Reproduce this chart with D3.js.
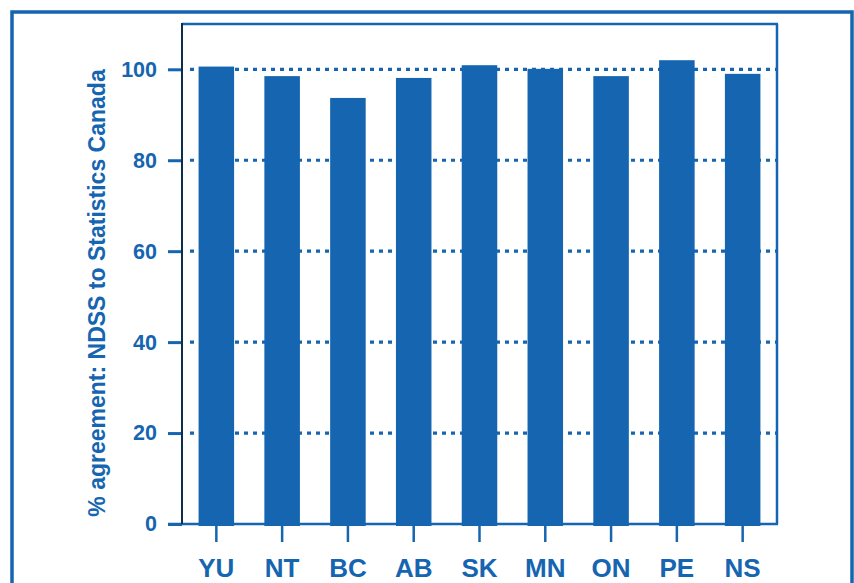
<!DOCTYPE html>
<html>
<head>
<meta charset="utf-8">
<script src="https://cdn.jsdelivr.net/npm/d3@7"></script>
<style>
  html, body { margin: 0; padding: 0; background: #ffffff; }
  svg { display: block; }
  text { font-family: "Liberation Sans", Arial, Helvetica, sans-serif; font-weight: bold; fill: #1565b0; }
</style>
</head>
<body>
<svg id="chart" width="854" height="583"></svg>
<script>
// ---- data ----
const provinces = ["YU", "NT", "BC", "AB", "SK", "MN", "ON", "PE", "NS"];
const agreement = [100.6, 98.5, 93.7, 98.1, 100.9, 100.1, 98.5, 102.0, 99.0];
const yTickValues = [0, 20, 40, 60, 80, 100];
const yTitle = "% agreement: NDSS to Statistics Canada";

// ---- layout ----
const BLUE = "#1565b0";
const NAVY = "#0c2d4c";
const plot = { left: 182, right: 777, top: 24, zero: 524, hundred: 69.3 };

const svg = d3.select("#chart");

// outer frame
svg.append("rect")
  .attr("x", 12).attr("y", 12)
  .attr("width", 840).attr("height", 620)
  .attr("fill", "none").attr("stroke", BLUE).attr("stroke-width", 3.5);

const x = d3.scaleBand()
  .domain(provinces)
  .range([plot.left, plot.right])
  .paddingInner(0.46)
  .paddingOuter(0.252);

const y = d3.scaleLinear()
  .domain([0, 100])
  .range([plot.zero, plot.hundred]);

// gridlines (dotted)
const grid = svg.append("g");
grid.selectAll("line")
  .data(yTickValues.filter(d => d > 0))
  .join("line")
  .attr("x1", plot.left + 8).attr("x2", plot.right)
  .attr("y1", d => y(d)).attr("y2", d => y(d))
  .attr("stroke", BLUE).attr("stroke-width", 3.2)
  .attr("stroke-dasharray", "4,5");

// bars
svg.append("g").selectAll("rect")
  .data(provinces.map((p, i) => ({ p, v: agreement[i] })))
  .join("rect")
  .attr("x", d => x(d.p))
  .attr("width", x.bandwidth())
  .attr("y", d => y(d.v))
  .attr("height", d => y(0) - y(d.v) + 2)
  .attr("fill", BLUE);

// inner frame: top and right
svg.append("line")
  .attr("x1", plot.left).attr("x2", plot.right + 1)
  .attr("y1", plot.top).attr("y2", plot.top)
  .attr("stroke", BLUE).attr("stroke-width", 2.5);
svg.append("line")
  .attr("x1", plot.right).attr("x2", plot.right)
  .attr("y1", plot.top).attr("y2", plot.zero)
  .attr("stroke", BLUE).attr("stroke-width", 2.5);

// x axis
const xAxis = svg.append("g").attr("transform", `translate(0,${y(0)})`)
  .call(d3.axisBottom(x).tickSize(18).tickSizeOuter(0).tickPadding(17));
xAxis.select(".domain").remove();
xAxis.selectAll(".tick line").attr("stroke", BLUE).attr("stroke-width", 2.5);
xAxis.selectAll(".tick text")
  .attr("font-size", 26).attr("fill", BLUE)
  .attr("font-family", "Liberation Sans, Arial, sans-serif")
  .attr("font-weight", "bold");
svg.append("line")
  .attr("x1", plot.left - 14).attr("x2", plot.right + 1)
  .attr("y1", y(0)).attr("y2", y(0))
  .attr("stroke", BLUE).attr("stroke-width", 2.5);

// y axis
const yAxis = svg.append("g").attr("transform", `translate(${plot.left},0)`)
  .call(d3.axisLeft(y).tickValues(yTickValues).tickSize(14).tickPadding(11).tickFormat(d3.format("d")));
yAxis.select(".domain").remove();
yAxis.selectAll(".tick line").attr("stroke", BLUE).attr("stroke-width", 3);
yAxis.selectAll(".tick text")
  .attr("font-size", 21.5).attr("fill", BLUE)
  .attr("font-family", "Liberation Sans, Arial, sans-serif")
  .attr("font-weight", "bold");
svg.append("line")
  .attr("x1", plot.left).attr("x2", plot.left)
  .attr("y1", plot.top - 1).attr("y2", y(0))
  .attr("stroke", NAVY).attr("stroke-width", 2);

// y title
svg.append("text")
  .attr("transform", `translate(104.5,293) rotate(-90)`)
  .attr("text-anchor", "middle")
  .attr("font-size", 23)
  .text(yTitle);
</script>
</body>
</html>
